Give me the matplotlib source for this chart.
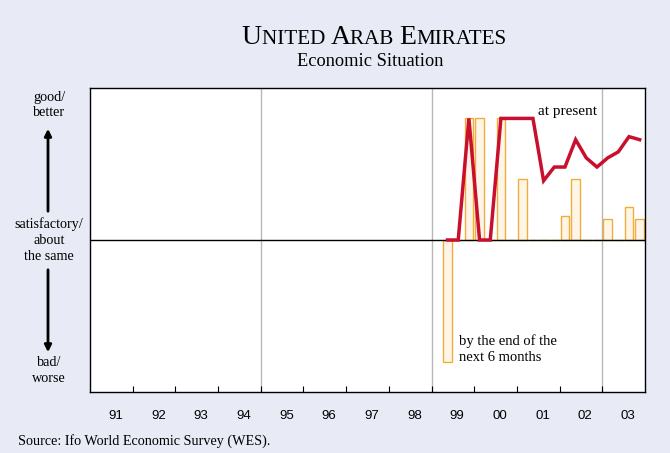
import matplotlib.pyplot as plt
import numpy as np

# quarterly survey results, 1999 Q2 .. 2003 Q4
quarters = ['99Q2', '99Q3', '99Q4', '00Q1', '00Q2', '00Q3', '00Q4', '01Q1', '01Q2', '01Q3',
            '01Q4', '02Q1', '02Q2', '02Q3', '02Q4', '03Q1', '03Q2', '03Q3', '03Q4']
present = [0, 0, 80, 0, 0, 80, 80, 80, 80, 39, 48, 48, 66, 54, 48, 54, 58, 68, 66]
expect6m = [-80, 0, 80, 80, 0, 80, 0, 40, 0, 0, 0, 16, 40, 0, 0, 14, 0, 22, 14]
year_labels = ['91', '92', '93', '94', '95', '96', '97', '98', '99', '00', '01', '02', '03']

bg = '#e8ebf5'
serif = 'Liberation Serif'

# quarter centres as fractional years
def qpos(q):
    yy = int(q[:2])
    year = 1900 + yy if yy > 50 else 2000 + yy
    return year + (int(q[3]) - 1) * 0.25 + 0.125

x = np.array([qpos(q) for q in quarters])

fig = plt.figure(figsize=(6.7, 4.53), dpi=100, facecolor=bg)
ax = fig.add_axes([90 / 670, 61 / 453, 555 / 670, 304 / 453])
ax.set_xlim(1991, 2004)
ax.set_ylim(-100, 100)

for gx in (1995, 1999, 2003):
    ax.axvline(gx, color='#b8b8b8', lw=1, zorder=0)
ax.axhline(0, color='black', lw=1, zorder=3)

ax.bar(x, expect6m, width=0.2, color='#fdf6e8', edgecolor='#f2ac3a', lw=1, zorder=2)
ax.plot(x, present, color='#c8102e', lw=2.5, zorder=4, solid_joinstyle='miter')

ax.set_yticks([])
ax.set_xticks(np.arange(1992, 2004))
ax.tick_params(axis='x', which='major', direction='in', length=4, labelbottom=False)
ax.set_xticks(np.arange(1991, 2004) + 0.6, minor=True)
ax.set_xticklabels(year_labels, minor=True, fontsize=9.5, family='Liberation Sans')
ax.tick_params(axis='x', which='minor', length=0, pad=13)
for s in ax.spines.values():
    s.set_linewidth(1)

ax.text(2001.49, 80, 'at present', family=serif, fontsize=11, ha='left', va='bottom')
ax.text(1999.65, -62, 'by the end of the\nnext 6 months', family=serif, fontsize=10.5,
        ha='left', va='top', linespacing=1.25)

# left-hand scale description
def ftext(px, py, s, **kw):
    fig.text(px / 670, 1 - py / 453, s, family=serif, fontsize=10.2, ha='center',
             va='center', linespacing=1.3, **kw)

ftext(49, 105, 'good/\nbetter')
ftext(49, 240, 'satisfactory/\nabout\nthe same')
ftext(49, 371, 'bad/\nworse')
fig.add_artist(plt.Annotation('', xy=(48 / 670, 1 - 126 / 453), xytext=(48 / 670, 1 - 214 / 453),
                              xycoords='figure fraction',
                              arrowprops=dict(arrowstyle='-|>', color='black', lw=2, mutation_scale=10)))
fig.add_artist(plt.Annotation('', xy=(48 / 670, 1 - 355 / 453), xytext=(48 / 670, 1 - 267 / 453),
                              xycoords='figure fraction',
                              arrowprops=dict(arrowstyle='-|>', color='black', lw=2, mutation_scale=10)))

# small-caps title built from runs of text
runs = [('U', 20), ('NITED ', 15.2), ('A', 20), ('RAB ', 15.2), ('E', 20), ('MIRATES', 15.2)]
renderer = fig.canvas.get_renderer()
pieces = []
total = 0
for s, size in runs:
    t = fig.text(0, 1 - 44 / 453, s, family=serif, fontsize=size, ha='left', va='baseline')
    w = t.get_window_extent(renderer).width
    pieces.append((t, w))
    total += w
cur = 374 - total / 2
for t, w in pieces:
    t.set_x(cur / 670)
    cur += w

fig.text(370 / 670, 1 - 62 / 453, 'Economic Situation', family=serif, fontsize=13.2,
         ha='center', va='center')
fig.text(18 / 670, 1 - 441 / 453, 'Source: Ifo World Economic Survey (WES).', family=serif,
         fontsize=10.2, ha='left', va='center')

fig.savefig('out.png', dpi=100, facecolor=bg)
